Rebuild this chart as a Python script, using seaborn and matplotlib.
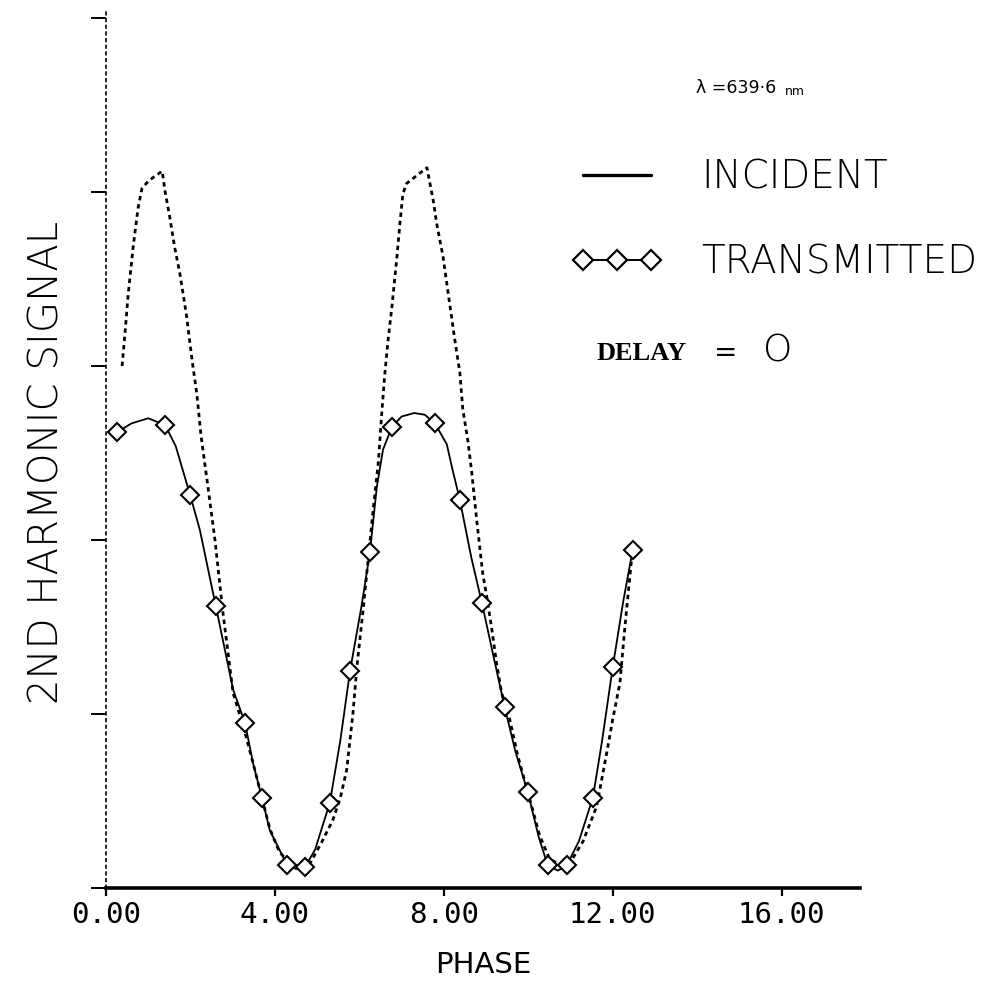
import matplotlib
matplotlib.use("Agg")
import matplotlib.pyplot as plt
from matplotlib.lines import Line2D
import seaborn as sns

# Incident second-harmonic signal versus phase
inc_phase = [0.38, 0.45, 0.52, 0.64, 0.76, 0.85, 0.99, 1.15, 1.33, 1.40, 1.50,
             1.62, 1.75, 1.90, 2.04, 2.15, 2.25, 2.40, 2.58, 2.77, 3.01, 3.25,
             3.48, 3.69, 3.88, 4.10, 4.35, 4.60, 4.85, 5.10, 5.37, 5.55, 5.70,
             5.85, 5.94, 6.08, 6.20, 6.32, 6.45, 6.53, 6.60, 6.68, 6.77, 6.89,
             6.96, 7.03, 7.12, 7.60, 7.67, 7.75, 7.83, 7.98, 8.09, 8.26, 8.38,
             8.45, 8.57, 8.66, 8.78, 8.92, 9.02, 9.14, 9.25, 9.37, 9.55, 9.75,
             9.99, 10.27, 10.50, 10.75, 11.00, 11.30, 11.62, 11.86, 12.00,
             12.17, 12.28, 12.36, 12.45]
inc_signal = [3.00, 3.19, 3.40, 3.68, 3.91, 4.02, 4.06, 4.09, 4.12, 4.00, 3.87,
              3.69, 3.53, 3.30, 3.03, 2.84, 2.60, 2.33, 2.00, 1.58, 1.12, 0.93,
              0.72, 0.52, 0.34, 0.21, 0.14, 0.12, 0.15, 0.26, 0.39, 0.52, 0.68,
              1.01, 1.27, 1.58, 1.87, 2.16, 2.45, 2.73, 2.95, 3.15, 3.34, 3.63,
              3.82, 3.99, 4.05, 4.14, 4.05, 3.95, 3.82, 3.63, 3.44, 3.15, 2.96,
              2.75, 2.57, 2.39, 2.11, 1.81, 1.67, 1.48, 1.29, 1.12, 0.98, 0.76,
              0.55, 0.30, 0.17, 0.13, 0.15, 0.27, 0.47, 0.78, 0.97,
              1.18, 1.48, 1.68, 1.90]

# Transmitted signal; measured points carry a diamond
tr_phase = [0.26, 0.60, 1.00, 1.40, 1.65, 1.99, 2.22, 2.60, 3.01, 3.29, 3.48,
            3.69, 3.88, 4.19, 4.28, 4.50, 4.71, 4.95, 5.30, 5.55, 5.78, 6.05,
            6.25, 6.41, 6.56, 6.77, 7.00, 7.30, 7.55, 7.79, 8.07, 8.21, 8.38,
            8.65, 8.90, 9.15, 9.44, 9.70, 9.99, 10.25, 10.46, 10.70, 10.91,
            11.20, 11.53, 11.75, 12.00, 12.25, 12.47]
tr_signal = [2.62, 2.67, 2.70, 2.66, 2.54, 2.26, 2.06, 1.62, 1.14, 0.95, 0.72,
             0.52, 0.33, 0.18, 0.13, 0.11, 0.12, 0.22, 0.49, 0.85, 1.25, 1.62,
             1.93, 2.30, 2.52, 2.65, 2.71, 2.73, 2.72, 2.67, 2.55, 2.40, 2.23,
             1.90, 1.64, 1.36, 1.04, 0.78, 0.55, 0.29, 0.13, 0.10, 0.13,
             0.27, 0.52, 0.85, 1.27, 1.65, 1.94]
tr_measured = [0, 3, 5, 7, 9, 11, 14, 16, 18, 20, 22, 25, 29, 32, 34, 36, 38,
               40, 42, 44, 46, 48]

x_ticks = [0, 4, 8, 12, 16]
x_tick_labels = ["0.00", "4.00", "8.00", "12.00", "16.00"]
y_ticks = [0, 1, 2, 3, 4, 5]

sns.set_theme(style="ticks", rc={
    "axes.edgecolor": "black", "axes.labelcolor": "black",
    "text.color": "black", "xtick.color": "black", "ytick.color": "black",
})
plt.rcParams["font.family"] = ["DejaVu Sans"]

fig = plt.figure(figsize=(10.05, 10.05), dpi=100, facecolor="white")
ax = fig.add_axes([0.1055, 0.1164, 0.750, 0.8736])
ax.set_facecolor("white")

sns.lineplot(x=inc_phase, y=inc_signal, ax=ax, color="black", lw=2.0,
             linestyle=(0, (1.6, 1.4)), sort=False)
sns.lineplot(x=tr_phase, y=tr_signal, ax=ax, color="black", lw=1.3,
             marker="D", markersize=9, markerfacecolor="white",
             markeredgecolor="black", markeredgewidth=1.5,
             markevery=tr_measured, sort=False)

ax.set_xlim(0, 17.85)
ax.set_ylim(0, 5.046)
ax.set_xticks(x_ticks)
ax.set_xticklabels(x_tick_labels)
ax.set_yticks(y_ticks)
ax.set_yticklabels([])
for lbl in ax.get_xticklabels():
    lbl.set_fontfamily("DejaVu Sans Mono")
ax.tick_params(axis="x", direction="out", length=6, width=1.6, pad=3,
               labelsize=21)
ax.tick_params(axis="y", direction="out", length=11, width=1.4)

sns.despine(ax=ax)
ax.spines["bottom"].set_linewidth(2.6)
ax.spines["left"].set_linewidth(1.2)
ax.spines["left"].set_linestyle((0, (1.5, 2.5)))

ax.set_xlabel("PHASE", fontsize=21, labelpad=16)
ax.set_ylabel("2ND HARMONIC SIGNAL", fontsize=29, fontweight="light")
ax.yaxis.set_label_coords(-0.052, 0.485)

handles = [
    Line2D([], [], color="black", lw=2.4),
    Line2D([], [], color="black", lw=1.4, marker="D", markersize=10,
           markerfacecolor="white", markeredgecolor="black",
           markeredgewidth=1.6),
]
ax.legend(handles, ["INCIDENT", "TRANSMITTED"], loc="upper left",
          bbox_to_anchor=(0.568, 0.842), bbox_transform=fig.transFigure,
          frameon=False, prop={"size": 28, "weight": "light"},
          handlelength=2.35, handletextpad=1.0, labelspacing=1.2,
          borderpad=0, borderaxespad=0, numpoints=3)

fig.text(0.693, 0.912, "λ =639·6", fontsize=12.5, ha="left", va="center")
fig.text(0.781, 0.909, "nm", fontsize=9, ha="left", va="center")

fig.text(0.638, 0.648, "DELAY", fontsize=19, fontweight="bold",
         family="Liberation Serif", ha="center", va="center")
fig.text(0.722, 0.649, "=", fontsize=20, ha="center", va="center")
fig.text(0.774, 0.651, "O", fontsize=27, fontweight="light",
         ha="center", va="center")

fig.savefig("out.png", dpi=100, facecolor="white")
